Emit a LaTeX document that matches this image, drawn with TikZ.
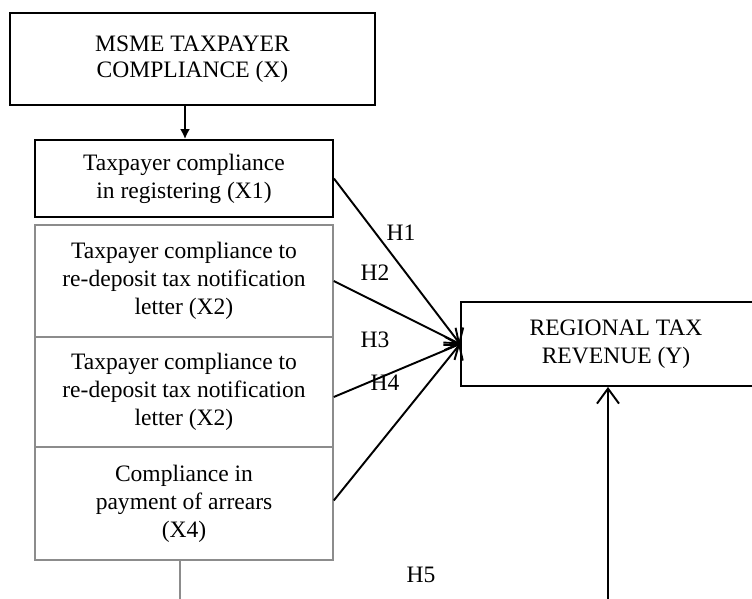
\documentclass[tikz,border=0pt]{standalone}
\usepackage{fontspec}
\setmainfont{Liberation Serif}
\usetikzlibrary{arrows.meta,positioning}

\begin{document}
\begin{tikzpicture}
             %% setup
             [
                 x=0.02cm, y=-0.02cm,
                 varbox/.style={rectangle, draw=black, line width=1.1pt, align=center, font=\fontsize{13.4}{15}\selectfont},
                 cellbox/.style={rectangle, draw=black!45, line width=0.9pt, align=center, font=\fontsize{13.4}{16}\selectfont, minimum width=5.96cm},
                 hyplabel/.style={font=\fontsize{13.4}{16}\selectfont, inner sep=1pt},
                 hypline/.style={line width=1.1pt, -{Straight Barb[length=2mm, width=5mm, line width=1.1pt]}},
             ]
                 \useasboundingbox (0,0) rectangle (752,599);

                 %% Nodes
                 \node [varbox, minimum width=7.3cm, minimum height=1.84cm] (msme) at (192.5,59) {MSME TAXPAYER\\COMPLIANCE (X)};
                 \node [varbox, minimum width=5.96cm, minimum height=1.54cm, font=\fontsize{13.4}{16}\selectfont] (registering) at (184,178.5) {Taxpayer compliance\\in registering (X1)};
                 \node [cellbox, minimum height=2.24cm] (redeposit) at (184,281) {Taxpayer compliance to\\re-deposit tax notification\\letter (X2)};
                 \node [cellbox, minimum height=2.2cm] (redepositb) at (184,392) {Taxpayer compliance to\\re-deposit tax notification\\letter (X2)};
                 \node [cellbox, minimum height=2.26cm] (arrears) at (184,503.5) {Compliance in\\payment of arrears\\(X4)};
                 \node [varbox, minimum width=6.2cm, minimum height=1.68cm, font=\fontsize{13.4}{16}\selectfont] (revenue) at (616,344) {REGIONAL TAX\\REVENUE (Y)};

                 \node [hyplabel] (h1) at (401,233) {H1};
                 \node [hyplabel] (h2) at (375,273) {H2};
                 \node [hyplabel] (h3) at (375,340) {H3};
                 \node [hyplabel] (h4) at (385,383) {H4};
                 \node [hyplabel] (h5) at (421,575) {H5};

                 \coordinate (stackfoot) at (180,599);
                 \coordinate (h5foot) at (608,599);

                 %% Lines
                 \draw[line width=1.1pt, -{Latex[length=2mm, width=2mm]}] (msme.south -| 185,0) -- (registering.north -| 185,0);
                 \draw[hypline] (registering.east) -- (revenue.west);
                 \draw[hypline] (redeposit.east) -- (revenue.west);
                 \draw[hypline] ([yshift=-0.1cm]redepositb.east) -- (revenue.west);
                 \draw[hypline] ([yshift=0.06cm]arrears.east) -- (revenue.west);
                 \draw[black!45, line width=1.2pt] (arrears.south -| stackfoot) -- (stackfoot);
                 \draw[line width=1.1pt, -{Straight Barb[length=3mm, width=4.4mm, line width=1.1pt]}] (h5foot) -- (h5foot |- revenue.south);

\end{tikzpicture}
\end{document}
